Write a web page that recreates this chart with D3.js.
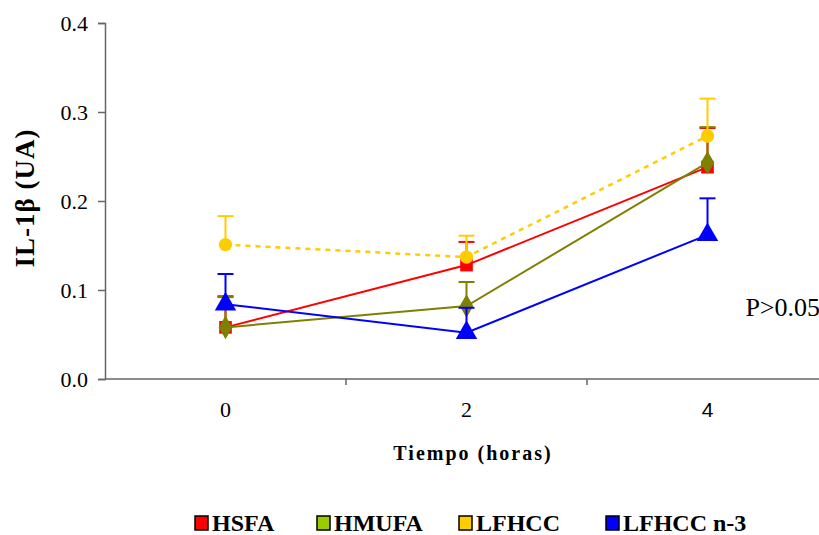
<!DOCTYPE html>
<html>
<head>
<meta charset="utf-8">
<script src="https://cdn.jsdelivr.net/npm/d3@7"></script>
<style>
  html, body { margin: 0; padding: 0; background: #fff; }
  svg { display: block; }
</style>
</head>
<body>
<svg id="chart" width="819" height="535"></svg>
<script>
// Time points (hours)
const hours = ["0", "2", "4"];
const yTicks = [0, 0.1, 0.2, 0.3, 0.4];

// IL-1β means and upper error bar ends per diet
const hsfa      = [0.058, 0.128, 0.238];
const hsfaErr   = [0.093, 0.154, 0.282];
const hmufa     = [0.058, 0.082, 0.243];
const hmufaErr  = [0.092, 0.109, 0.283];
const lfhcc     = [0.151, 0.137, 0.273];
const lfhccErr  = [0.183, 0.161, 0.315];
const lfhccN3   = [0.084, 0.052, 0.162];
const lfhccN3Err= [0.118, 0.080, 0.203];

const seriesNames = ["HSFA", "HMUFA", "LFHCC", "LFHCC n-3"];

const SERIF = '"Liberation Serif", "Times New Roman", Times, serif';
const SANS = '"Liberation Sans", Arial, sans-serif';

const series = [
  { name: seriesNames[0], values: hsfa,    err: hsfaErr,    color: "#ff0000", marker: "square",   swatch: "#ff0000", dash: null },
  { name: seriesNames[1], values: hmufa,   err: hmufaErr,   color: "#808000", marker: "diamond",  swatch: "#99cc00", dash: null },
  { name: seriesNames[2], values: lfhcc,   err: lfhccErr,   color: "#ffcc00", marker: "circle",   swatch: "#ffcc00", dash: "5,5" },
  { name: seriesNames[3], values: lfhccN3, err: lfhccN3Err, color: "#0000ff", marker: "triangle", swatch: "#0000ff", dash: null }
];

const svg = d3.select("#chart");

const x = d3.scaleBand().domain(hours).range([105, 828]).paddingInner(0).paddingOuter(0);
const y = d3.scaleLinear().domain([0, 0.4]).range([379, 23]);
const cx = d => x(d) + x.bandwidth() / 2;

const axisColor = "#666";

// Y axis
const yAxis = svg.append("g")
  .attr("transform", "translate(105,0)")
  .call(d3.axisLeft(y).tickValues(yTicks).tickFormat(d3.format(".1f")).tickSize(7).tickPadding(10));
yAxis.attr("font-family", null).attr("font-size", null);
yAxis.select(".domain").attr("stroke", axisColor).attr("stroke-width", 1.5);
yAxis.selectAll(".tick line").attr("stroke", axisColor).attr("stroke-width", 1.5);
yAxis.selectAll(".tick text")
  .style("font-family", SERIF)
  .style("font-size", "22px")
  .attr("fill", "#000");

// X axis: ticks sit on category boundaries, labels centred in bands
const xAxisG = svg.append("g").attr("transform", "translate(0,379)");
xAxisG.append("line")
  .attr("x1", 105).attr("x2", 828).attr("y1", 0).attr("y2", 0)
  .attr("stroke", axisColor).attr("stroke-width", 1.5);
xAxisG.selectAll("line.tk")
  .data(hours.slice(1))
  .join("line")
  .attr("class", "tk")
  .attr("x1", d => x(d)).attr("x2", d => x(d))
  .attr("y1", 0).attr("y2", 6)
  .attr("stroke", axisColor).attr("stroke-width", 1.5);
xAxisG.selectAll("text")
  .data(hours)
  .join("text")
  .attr("x", d => cx(d))
  .attr("y", 38)
  .attr("text-anchor", "middle")
  .style("font-size", d => d === "4" ? "21px" : "22px")
  .style("font-family", d => d === "4" ? SANS : SERIF)
  .text(d => d);

// Axis titles
svg.append("text")
  .attr("x", 473).attr("y", 460)
  .attr("text-anchor", "middle")
  .style("font-family", SERIF)
  .style("font-size", "20px")
  .style("font-weight", "bold")
  .style("letter-spacing", "2px")
  .text("Tiempo (horas)");

svg.append("text")
  .attr("transform", "translate(34,198) rotate(-90)")
  .attr("text-anchor", "middle")
  .style("font-family", SERIF)
  .style("font-size", "27px")
  .style("font-weight", "bold")
  .style("letter-spacing", "1px")
  .text("IL-1β (UA)");

// Significance note
svg.append("text")
  .attr("x", 820).attr("y", 316)
  .attr("text-anchor", "end")
  .style("font-family", SERIF)
  .style("font-size", "26px")
  .text("P>0.05");

// Series: lines, error bars, markers
const line = d3.line().x((d, i) => cx(hours[i])).y(d => y(d));

const symbolFor = {
  square:   d3.symbol().type(d3.symbolSquare).size(160),
  diamond:  d3.symbol().type(d3.symbolDiamond).size(160),
  circle:   d3.symbol().type(d3.symbolCircle).size(140),
  triangle: d3.symbol().type(d3.symbolTriangle).size(200)
};

series.forEach(s => {
  const g = svg.append("g");
  // error bars (upper)
  s.values.forEach((v, i) => {
    const px = cx(hours[i]);
    g.append("line")
      .attr("x1", px).attr("x2", px)
      .attr("y1", y(v)).attr("y2", y(s.err[i]))
      .attr("stroke", s.color).attr("stroke-width", 2);
    g.append("line")
      .attr("x1", px - 8).attr("x2", px + 8)
      .attr("y1", y(s.err[i])).attr("y2", y(s.err[i]))
      .attr("stroke", s.color).attr("stroke-width", 2);
  });
  g.append("path")
    .datum(s.values)
    .attr("d", line)
    .attr("fill", "none")
    .attr("stroke", s.color)
    .attr("stroke-width", s.dash ? 2.5 : 2)
    .attr("stroke-dasharray", s.dash);
  g.selectAll("path.mk")
    .data(s.values)
    .join("path")
    .attr("class", "mk")
    .attr("transform", (d, i) => `translate(${cx(hours[i])},${y(d)})`)
    .attr("d", symbolFor[s.marker]())
    .attr("fill", s.color);
});

// Legend
const legendX = [195, 317, 459, 606];
const legend = svg.append("g");
series.forEach((s, i) => {
  const lg = legend.append("g").attr("transform", `translate(${legendX[i]},516)`);
  lg.append("rect")
    .attr("x", 0).attr("y", 0).attr("width", 13).attr("height", 14)
    .attr("fill", s.swatch).attr("stroke", "#000").attr("stroke-width", 1.5);
  lg.append("text")
    .attr("x", 17).attr("y", 15)
    .style("font-family", SERIF)
    .style("font-size", "24px")
    .style("font-weight", "bold")
    .text(s.name);
});
</script>
</body>
</html>
